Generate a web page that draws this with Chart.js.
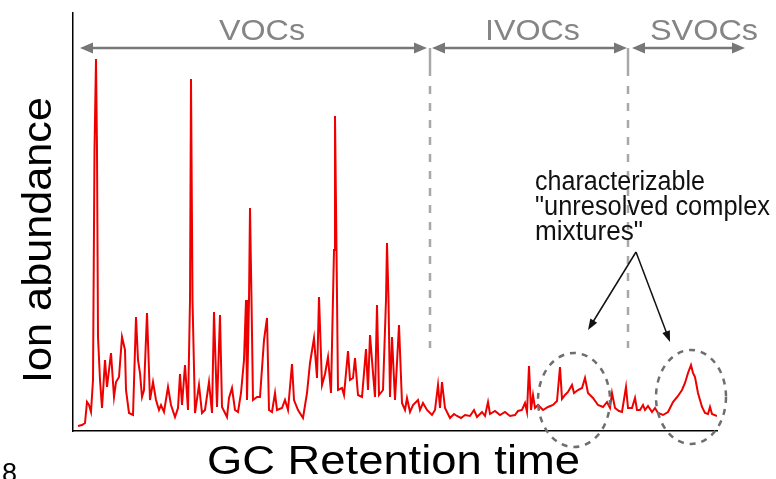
<!DOCTYPE html>
<html lang="en">
<head>
  <meta charset="UTF-8" />
  <title>GC Retention Time Chromatogram</title>
  <script src="https://cdn.jsdelivr.net/npm/chart.js"></script>
  <style>
    html, body { margin: 0; padding: 0; background: #fff; }
    #wrap { width: 776px; height: 479px; }
  </style>
</head>
<body>
<div id="wrap"><canvas id="gcChart" width="776" height="479"></canvas></div>

<script>
  // trace: retention time (min) and ion abundance (arb. units)
  const retentionTime = [
    0.5, 0.9, 1.2, 1.4, 1.6, 1.8, 2.0, 2.15, 2.3, 2.4, 2.5, 2.7, 2.9, 3.2, 3.4, 3.6, 3.8, 4.1, 4.3, 4.6,
    4.9, 5.2, 5.3, 5.6, 6.0, 6.3, 6.5, 6.7, 6.9, 7.1, 7.4, 7.7, 8.0, 8.3, 8.6, 8.8, 9.1, 9.5, 9.8, 10.2,
    10.5, 10.7, 10.9, 11.2, 11.5, 11.7, 11.8, 11.95, 12.2, 12.6, 12.9, 13.2, 13.6, 13.9, 14.1, 14.4, 14.7, 14.9, 15.2, 15.4,
    15.6, 15.9, 16.2, 16.5, 16.8, 17.1, 17.3, 17.4, 17.6, 17.7, 17.85, 18.0, 18.4, 18.7, 19.1, 19.4, 19.6, 19.9, 20.2, 20.4,
    20.9, 21.2, 21.5, 21.9, 22.1, 22.5, 23.0, 23.4, 23.7, 24.1, 24.4, 24.6, 24.9, 25.2, 25.5, 25.8, 26.1, 26.2, 26.35, 26.5,
    26.9, 27.1, 27.5, 27.7, 28.0, 28.2, 28.5, 28.9, 29.3, 29.5, 29.7, 30.0, 30.2, 30.4, 30.6, 31.0, 31.3, 31.4, 31.55, 31.7,
    31.9, 32.2, 32.6, 32.9, 33.2, 33.4, 33.7, 34.0, 34.5, 34.7, 35.0, 35.4, 35.9, 36.2, 36.5, 36.7, 36.9, 37.2, 37.7, 38.1,
    38.4, 38.8, 39.2, 39.7, 40.1, 40.4, 40.9, 41.2, 41.5, 41.7, 42.2, 42.7, 43.2, 43.7, 44.2, 44.5, 44.9, 45.2, 45.4, 45.6,
    45.8, 46.0, 46.2, 46.5, 47.0, 47.5, 48.0, 48.4, 48.7, 48.9, 49.2, 49.5, 49.9, 50.1, 50.5, 50.9, 51.2, 51.5, 52.0, 52.5,
    53.0, 53.4, 53.7, 53.9, 54.2, 54.6, 54.9, 55.3, 55.5, 55.9, 56.2, 56.4, 56.7, 57.0, 57.2, 57.5, 57.9, 58.2, 58.5, 59.0,
    59.5, 60.0, 60.5, 60.9, 61.2, 61.5, 61.8, 62.0, 62.2, 62.5, 62.9, 63.2, 63.5, 63.7, 63.9, 64.4
  ];
  const ionAbundance = [
    5, 6, 8, 29, 26, 19, 51, 281, 372, 281, 94, 51, 23, 71, 44, 61, 78, 34, 49, 54,
    94, 81, 41, 18, 16, 114, 71, 58, 34, 41, 118, 31, 49, 31, 21, 26, 19, 44, 26, 14,
    23, 57, 26, 66, 21, 131, 352, 131, 18, 46, 18, 21, 49, 18, 119, 24, 116, 24, 18, 14,
    33, 43, 21, 19, 38, 71, 131, 31, 131, 223, 131, 31, 34, 34, 91, 113, 21, 19, 38, 21,
    23, 31, 21, 67, 31, 21, 13, 38, 68, 93, 53, 134, 46, 57, 74, 38, 181, 315, 181, 41,
    43, 36, 80, 51, 53, 73, 36, 34, 82, 41, 96, 58, 34, 126, 36, 41, 131, 188, 131, 34,
    94, 31, 106, 28, 21, 33, 19, 26, 31, 21, 28, 21, 16, 21, 46, 23, 49, 23, 13, 17,
    15, 13, 16, 15, 21, 14, 19, 15, 29, 17, 20, 16, 19, 15, 16, 20, 21, 28, 19, 65,
    21, 36, 23, 26, 21, 24, 26, 30, 64, 32, 36, 39, 46, 38, 41, 43, 53, 38, 33, 26,
    24, 29, 23, 38, 23, 20, 19, 44, 23, 23, 33, 21, 21, 26, 21, 25, 19, 23, 18, 16,
    19, 29, 35, 41, 48, 58, 66, 58, 54, 38, 24, 18, 17, 24, 17, 15
  ];

  // volatility classes and their retention windows (min)
  const regionNames = ['VOCs', 'IVOCs', 'SVOCs'];
  const regionStart = [0.7, 35.9, 55.9];
  const regionEnd = [35.4, 55.4, 67.2];
  const regionBoundaries = [35.7, 55.5];

  const ucmNote = ['characterizable', '"unresolved complex', 'mixtures"'];

  const FONT = '"Liberation Sans", Arial, sans-serif';

  // draw text squeezed/stretched to a given width
  function fitText(ctx, text, x, y, size, width, rotate) {
    ctx.save();
    ctx.font = size + 'px ' + FONT;
    const w = ctx.measureText(text).width;
    ctx.translate(x, y);
    if (rotate) ctx.rotate(-Math.PI / 2);
    ctx.scale(width / w, 1);
    ctx.textAlign = 'left';
    ctx.textBaseline = 'alphabetic';
    ctx.fillText(text, 0, 0);
    ctx.restore();
  }

  function arrowHead(ctx, x, y, angle, len, half) {
    ctx.save();
    ctx.translate(x, y);
    ctx.rotate(angle);
    ctx.beginPath();
    ctx.moveTo(0, 0);
    ctx.lineTo(-len, -half);
    ctx.lineTo(-len, half);
    ctx.closePath();
    ctx.fill();
    ctx.restore();
  }

  function arrowLine(ctx, x1, y1, x2, y2, len, half, both) {
    const a = Math.atan2(y2 - y1, x2 - x1);
    ctx.beginPath();
    ctx.moveTo(x1 + (both ? Math.cos(a) * len * 0.8 : 0), y1 + (both ? Math.sin(a) * len * 0.8 : 0));
    ctx.lineTo(x2 - Math.cos(a) * len * 0.8, y2 - Math.sin(a) * len * 0.8);
    ctx.stroke();
    arrowHead(ctx, x2, y2, a, len, half);
    if (both) arrowHead(ctx, x1, y1, a + Math.PI, len, half);
  }

  const overlay = {
    id: 'overlay',
    afterDraw(chart) {
      const ctx = chart.ctx;
      const X = v => chart.scales.x.getPixelForValue(v);
      const Y = v => chart.scales.y.getPixelForValue(v);

      // region boundaries
      ctx.save();
      ctx.strokeStyle = '#a8a8a8';
      ctx.lineWidth = 2.5;
      regionBoundaries.forEach(b => {
        ctx.setLineDash([]);
        ctx.beginPath();
        ctx.moveTo(X(b), Y(383));
        ctx.lineTo(X(b), Y(355));
        ctx.stroke();
        ctx.setLineDash([8, 9]);
        ctx.beginPath();
        ctx.moveTo(X(b), Y(345));
        ctx.lineTo(X(b), Y(83));
        ctx.stroke();
      });
      ctx.restore();

      // region arrows and labels
      ctx.save();
      ctx.strokeStyle = '#777';
      ctx.fillStyle = '#777';
      ctx.lineWidth = 2.5;
      regionNames.forEach((name, i) => {
        arrowLine(ctx, X(regionStart[i]), Y(383), X(regionEnd[i]), Y(383), 13, 5.5, true);
      });
      ctx.fillStyle = '#858585';
      const labelRt = [14.6, 41.2, 57.7];
      const labelW = [86, 95, 108];
      regionNames.forEach((name, i) => {
        fitText(ctx, name, X(labelRt[i]), Y(391), 30, labelW[i]);
      });
      ctx.restore();

      // dashed ellipses round the UCM humps
      ctx.save();
      ctx.strokeStyle = '#6e6e6e';
      ctx.lineWidth = 2.5;
      ctx.setLineDash([6, 6]);
      [[50.1, 31, 36, 47], [61.8, 34, 35, 47]].forEach(e => {
        ctx.beginPath();
        ctx.ellipse(X(e[0]), Y(e[1]), e[2], e[3], 0, 0, Math.PI * 2);
        ctx.stroke();
      });
      ctx.restore();

      // note and pointer arrows
      ctx.save();
      ctx.fillStyle = '#111';
      const noteW = [170, 235, 108];
      ucmNote.forEach((line, i) => {
        fitText(ctx, line, X(46.2), Y(241 - i * 25), 27, noteW[i]);
      });
      ctx.strokeStyle = '#111';
      ctx.lineWidth = 1.5;
      arrowLine(ctx, X(56.3), Y(179), X(51.5), Y(101), 11, 4, false);
      arrowLine(ctx, X(56.3), Y(179), X(59.7), Y(89), 11, 4, false);
      ctx.restore();

      // axis titles
      ctx.save();
      ctx.fillStyle = '#000';
      fitText(ctx, 'GC Retention time', 207, 474, 41, 373);
      fitText(ctx, 'Ion abundance', 51, 383, 40, 286, true);
      ctx.font = '27px ' + FONT;
      ctx.fillText('8', 2, 482);
      ctx.restore();
    }
  };

  new Chart(document.getElementById('gcChart'), {
    type: 'line',
    data: {
      datasets: [{
        data: retentionTime.map((t, i) => ({ x: t, y: ionAbundance[i] })),
        borderColor: '#ee0000',
        borderWidth: 2,
        pointRadius: 0,
        tension: 0,
        fill: false
      }]
    },
    options: {
      responsive: false,
      animation: false,
      devicePixelRatio: 1,
      layout: { padding: { left: 73, right: 59, top: 13, bottom: 48 } },
      plugins: { legend: { display: false }, tooltip: { enabled: false } },
      scales: {
        x: {
          type: 'linear', min: 0, max: 64.4,
          grid: { display: false, drawTicks: false },
          ticks: { display: false },
          border: { display: true, color: '#000', width: 1.5 }
        },
        y: {
          min: 0, max: 418,
          grid: { display: false, drawTicks: false },
          ticks: { display: false },
          border: { display: true, color: '#000', width: 1.5 }
        }
      }
    },
    plugins: [overlay]
  });
</script>
</body>
</html>
